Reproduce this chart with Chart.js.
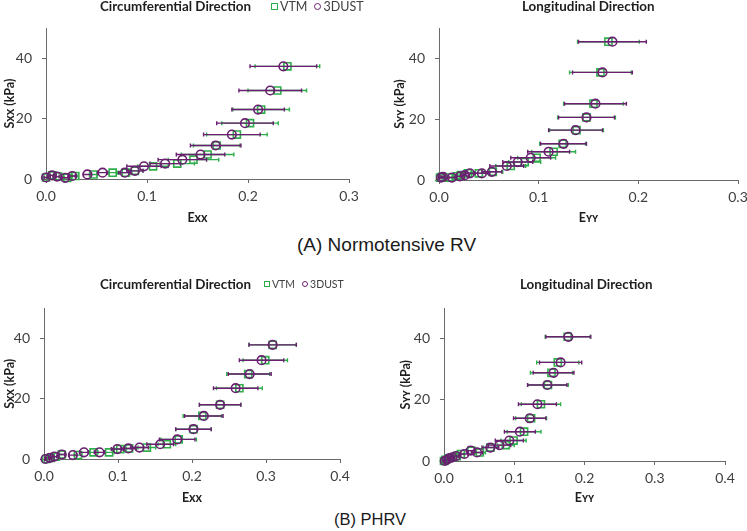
<!DOCTYPE html>
<html>
<head>
<meta charset="utf-8">
<script src="https://cdn.jsdelivr.net/npm/chart.js@4.4.0/dist/chart.umd.min.js"></script>
<style>
    body { margin: 0; width: 747px; height: 531px; overflow: hidden; background: #fff; position: relative; font-family: Lato, 'Open Sans', sans-serif; }
    canvas { position: absolute; }
    .ttl { position: absolute; font: bold 13.4px Lato, sans-serif; color: #1e1e1e; white-space: nowrap; line-height: 14px; }
    .leg { position: absolute; color: #404040; white-space: nowrap; display: flex; align-items: center; }
    .leg i { display: inline-block; box-sizing: border-box; border-width: 1.6px; border-style: solid; margin-right: 2px; }
    .cap { position: absolute; font-family: 'Liberation Sans', Arial, sans-serif; color: #1a1a1a; white-space: nowrap; }
</style>
</head>
<body>
<canvas id="aCirc"></canvas>
<canvas id="aLong"></canvas>
<canvas id="bCirc"></canvas>
<canvas id="bLong"></canvas>

<div class="ttl" style="left:100px; top:-1px;">Circumferential Direction</div>
<div class="ttl" style="left:522px; top:-1px;">Longitudinal Direction</div>
<div class="ttl" style="left:100px; top:277px;">Circumferential Direction</div>
<div class="ttl" style="left:520px; top:277px;">Longitudinal Direction</div>
<div class="leg" id="legA" style="left:271px; top:-1px; font-size:12.5px; height:14px;"></div>
<div class="leg" id="legB" style="left:264px; top:277px; font-size:10.5px; height:14px;"></div>

<div class="cap" style="left:297px; top:235px; font-size:19px; line-height:19px;">(A) Normotensive RV</div>
<div class="cap" style="left:334px; top:511px; font-size:16.5px; line-height:16.5px;">(B) PHRV</div>

<script>
// Séries et couleurs
const SERIES = ['VTM', '3DUST'];
const COLORS = ['#2fae4b', '#6a1f70'];

// Graduations
const X_TICKS_A = [0, 0.1, 0.2, 0.3];
const X_TICKS_B = [0, 0.1, 0.2, 0.3, 0.4];
const Y_TICKS = [0, 20, 40];

// (A) Normotensive RV - direction circonférentielle
const A_CIRC_S = [0.5, 1.2, 0.8, 0.4, 1.0, 1.5, 2.1, 2.1, 2.7, 4.2, 5.1, 6.4, 8.1, 11.1, 14.7, 18.5, 23.0, 29.3, 37.3];
const A_CIRC_VTM = [0.000, 0.006, 0.012, 0.021, 0.029, 0.047, 0.066, 0.079, 0.088, 0.106, 0.130, 0.146, 0.160, 0.169, 0.189, 0.202, 0.213, 0.229, 0.239];
const A_CIRC_VTM_ERR = [0.002, 0.002, 0.002, 0.003, 0.003, 0.004, 0.005, 0.006, 0.008, 0.015, 0.017, 0.025, 0.026, 0.023, 0.030, 0.028, 0.028, 0.029, 0.032];
const A_CIRC_US = [0.000, 0.006, 0.011, 0.019, 0.026, 0.041, 0.056, 0.078, 0.088, 0.097, 0.118, 0.135, 0.153, 0.168, 0.184, 0.197, 0.210, 0.222, 0.235];
const A_CIRC_US_ERR = [0.002, 0.002, 0.002, 0.003, 0.003, 0.004, 0.005, 0.006, 0.008, 0.017, 0.015, 0.024, 0.024, 0.025, 0.028, 0.028, 0.026, 0.031, 0.033];

// (A) Normotensive RV - direction longitudinale
const A_LONG_S = [0.8, 1.0, 0.8, 1.2, 1.6, 2.2, 2.2, 2.7, 4.6, 5.9, 7.3, 9.3, 11.9, 16.4, 20.6, 25.1, 35.4, 45.5];
const A_LONG_VTM = [0.001, 0.003, 0.010, 0.018, 0.022, 0.029, 0.040, 0.054, 0.072, 0.086, 0.098, 0.115, 0.124, 0.138, 0.148, 0.155, 0.162, 0.170];
const A_LONG_VTM_ERR = [0.002, 0.002, 0.003, 0.003, 0.004, 0.005, 0.008, 0.010, 0.015, 0.016, 0.019, 0.022, 0.023, 0.027, 0.029, 0.030, 0.031, 0.031];
const A_LONG_US = [0.002, 0.004, 0.013, 0.021, 0.026, 0.031, 0.043, 0.053, 0.068, 0.079, 0.092, 0.110, 0.125, 0.137, 0.148, 0.157, 0.164, 0.174];
const A_LONG_US_ERR = [0.002, 0.002, 0.003, 0.003, 0.004, 0.005, 0.008, 0.010, 0.017, 0.015, 0.020, 0.021, 0.023, 0.027, 0.028, 0.031, 0.030, 0.034];

// (B) PHRV - direction circonférentielle
const B_CIRC_S = [0.0, 0.4, 0.8, 1.5, 1.3, 2.2, 2.2, 3.3, 3.5, 3.8, 4.9, 6.5, 9.9, 14.3, 18.0, 23.5, 28.2, 32.8, 37.9];
const B_CIRC_VTM = [0.003, 0.009, 0.016, 0.024, 0.046, 0.067, 0.088, 0.103, 0.115, 0.139, 0.166, 0.182, 0.202, 0.214, 0.238, 0.264, 0.276, 0.299, 0.309];
const B_CIRC_VTM_ERR = [0.001, 0.002, 0.003, 0.004, 0.005, 0.006, 0.007, 0.008, 0.010, 0.012, 0.012, 0.024, 0.024, 0.026, 0.028, 0.031, 0.029, 0.030, 0.032];
const B_CIRC_US = [0.002, 0.008, 0.014, 0.024, 0.039, 0.054, 0.075, 0.099, 0.114, 0.129, 0.157, 0.180, 0.202, 0.216, 0.238, 0.259, 0.278, 0.294, 0.309];
const B_CIRC_US_ERR = [0.001, 0.002, 0.003, 0.004, 0.005, 0.006, 0.007, 0.008, 0.010, 0.012, 0.018, 0.024, 0.024, 0.026, 0.028, 0.030, 0.029, 0.030, 0.032];

// (B) PHRV - direction longitudinale
const B_LONG_S = [0.0, 0.4, 0.85, 1.2, 1.6, 2.3, 3.4, 2.8, 4.4, 5.2, 6.7, 9.6, 14.0, 18.6, 24.9, 28.9, 32.3, 40.7];
const B_LONG_VTM = [0.000, 0.002, 0.006, 0.012, 0.018, 0.024, 0.039, 0.051, 0.066, 0.088, 0.099, 0.114, 0.124, 0.138, 0.148, 0.153, 0.162, 0.176];
const B_LONG_VTM_ERR = [0.001, 0.002, 0.002, 0.003, 0.004, 0.005, 0.006, 0.008, 0.010, 0.012, 0.018, 0.024, 0.022, 0.028, 0.029, 0.030, 0.030, 0.032];
const B_LONG_US = [0.001, 0.004, 0.007, 0.012, 0.017, 0.029, 0.038, 0.047, 0.066, 0.079, 0.093, 0.108, 0.122, 0.133, 0.147, 0.156, 0.166, 0.177];
const B_LONG_US_ERR = [0.001, 0.002, 0.002, 0.003, 0.004, 0.005, 0.006, 0.008, 0.012, 0.016, 0.020, 0.022, 0.023, 0.027, 0.028, 0.029, 0.030, 0.032];

const AXIS_COLOR = '#6a6a6a';
const TICK_COLOR = '#3f3f3f';

/**
 * Barres d'erreur horizontales, dessinées avant chaque jeu de données
 */
const xErrorBars = {
    id: 'xErrorBars',
    beforeDatasetDraw(chart, args) {
        const ds = chart.data.datasets[args.index];
        if (!ds.xErr) return;
        const { ctx, scales: { x, y } } = chart;
        ctx.save();
        ctx.strokeStyle = ds.borderColor;
        ctx.lineWidth = 1.4;
        ds.data.forEach((p, i) => {
            const e = ds.xErr[i];
            if (!e) return;
            const x0 = x.getPixelForValue(p.x - e);
            const x1 = x.getPixelForValue(p.x + e);
            const py = y.getPixelForValue(p.y);
            ctx.beginPath();
            ctx.moveTo(x0, py);
            ctx.lineTo(x1, py);
            ctx.moveTo(x0, py - 2);
            ctx.lineTo(x0, py + 2);
            ctx.moveTo(x1, py - 2);
            ctx.lineTo(x1, py + 2);
            ctx.stroke();
        });
        ctx.restore();
    }
};

function toPoints(xs, ys) {
    return xs.map((v, i) => ({ x: v, y: ys[i] }));
}

/**
 * Crée un panneau : box = position du canvas, area = zone de tracé (coordonnées de la page)
 */
function makePanel(cfg) {
    const canvas = document.getElementById(cfg.id);
    canvas.style.left = cfg.box.left + 'px';
    canvas.style.top = cfg.box.top + 'px';
    canvas.width = cfg.box.width;
    canvas.height = cfg.box.height;
    canvas.style.width = cfg.box.width + 'px';
    canvas.style.height = cfg.box.height + 'px';

    const yAxisWidth = cfg.area.l - cfg.box.left;
    const xAxisHeight = cfg.box.top + cfg.box.height - cfg.area.b;
    const titleFont = { family: 'Lato', size: 12.5, weight: 'bold' };
    const lh = titleFont.size * 1.2 / 2;

    const datasets = [
        {
            label: SERIES[0],
            data: toPoints(cfg.vtm, cfg.s),
            xErr: cfg.vtmErr,
            pointStyle: 'rect',
            pointRadius: 5,
            borderColor: COLORS[0],
            order: 1
        },
        {
            label: SERIES[1],
            data: toPoints(cfg.us, cfg.s),
            xErr: cfg.usErr,
            pointStyle: 'circle',
            pointRadius: 4.3,
            borderColor: COLORS[1],
            order: 0
        }
    ].map(d => Object.assign(d, {
        backgroundColor: 'rgba(0,0,0,0)',
        pointBorderWidth: 1.6,
        pointHoverRadius: d.pointRadius,
        showLine: false,
        clip: false
    }));

    return new Chart(canvas, {
        type: 'scatter',
        data: { datasets: datasets },
        options: {
            responsive: false,
            animation: false,
            devicePixelRatio: 1,
            layout: {
                padding: {
                    top: cfg.area.t - cfg.box.top,
                    right: cfg.box.left + cfg.box.width - cfg.area.r,
                    left: 0,
                    bottom: 0
                }
            },
            plugins: {
                legend: { display: false },
                tooltip: { enabled: false }
            },
            scales: {
                x: {
                    type: 'linear',
                    min: 0,
                    max: cfg.xMax,
                    afterBuildTicks: (s) => { s.ticks = cfg.xTicks.map(v => ({ value: v })); },
                    afterFit: (s) => { s.height = xAxisHeight; },
                    ticks: {
                        callback: (v) => Number(v).toFixed(1),
                        font: { family: 'Lato', size: 14 },
                        color: TICK_COLOR,
                        padding: 5,
                        maxRotation: 0
                    },
                    grid: { drawOnChartArea: false, drawTicks: true, tickLength: 4, color: AXIS_COLOR },
                    border: { color: AXIS_COLOR, width: 1 },
                    title: {
                        display: true,
                        text: cfg.xTitle,
                        font: titleFont,
                        color: '#1e1e1e',
                        padding: { top: 0, bottom: cfg.box.top + cfg.box.height - cfg.xTitleY - lh }
                    }
                },
                y: {
                    type: 'linear',
                    min: 0,
                    max: 50,
                    afterBuildTicks: (s) => { s.ticks = Y_TICKS.map(v => ({ value: v })); },
                    afterFit: (s) => { s.width = yAxisWidth; },
                    ticks: {
                        font: { family: 'Lato', size: 14 },
                        color: TICK_COLOR,
                        padding: 10
                    },
                    grid: { drawOnChartArea: false, drawTicks: true, tickLength: 4, color: AXIS_COLOR },
                    border: { color: AXIS_COLOR, width: 1 },
                    title: {
                        display: true,
                        text: cfg.yTitle,
                        font: titleFont,
                        color: '#1e1e1e',
                        padding: { top: cfg.yTitleX - cfg.box.left - lh, bottom: 0 }
                    }
                }
            }
        },
        plugins: [xErrorBars]
    });
}

// Légende HTML construite à partir des séries
function fillLegend(id, size) {
    const el = document.getElementById(id);
    SERIES.forEach((name, i) => {
        const item = document.createElement('span');
        item.style.display = 'inline-flex';
        item.style.alignItems = 'center';
        item.style.marginRight = i === 0 ? '7px' : '0';
        const mark = document.createElement('i');
        mark.style.width = size + 'px';
        mark.style.height = size + 'px';
        mark.style.borderColor = COLORS[i];
        if (i === 1) mark.style.borderRadius = '50%';
        item.appendChild(mark);
        item.appendChild(document.createTextNode(name));
        el.appendChild(item);
    });
}

fillLegend('legA', 7);
fillLegend('legB', 6);

makePanel({
    id: 'aCirc',
    box: { left: 0, top: 0, width: 372, height: 230 },
    area: { l: 46, t: 28, r: 349, b: 179 },
    xMax: 0.3, xTicks: X_TICKS_A,
    xTitle: 'Exx', yTitle: 'Sxx (kPa)', xTitleY: 218, yTitleX: 10,
    s: A_CIRC_S, vtm: A_CIRC_VTM, vtmErr: A_CIRC_VTM_ERR, us: A_CIRC_US, usErr: A_CIRC_US_ERR
});

makePanel({
    id: 'aLong',
    box: { left: 385, top: 0, width: 382, height: 230 },
    area: { l: 439, t: 28, r: 738, b: 180 },
    xMax: 0.3, xTicks: X_TICKS_A,
    xTitle: 'Eʏʏ', yTitle: 'Sʏʏ (kPa)', xTitleY: 218, yTitleX: 400,
    s: A_LONG_S, vtm: A_LONG_VTM, vtmErr: A_LONG_VTM_ERR, us: A_LONG_US, usErr: A_LONG_US_ERR
});

makePanel({
    id: 'bCirc',
    box: { left: 0, top: 290, width: 372, height: 220 },
    area: { l: 44, t: 306, r: 340, b: 459 },
    xMax: 0.4, xTicks: X_TICKS_B,
    xTitle: 'Exx', yTitle: 'Sxx (kPa)', xTitleY: 498, yTitleX: 10,
    s: B_CIRC_S, vtm: B_CIRC_VTM, vtmErr: B_CIRC_VTM_ERR, us: B_CIRC_US, usErr: B_CIRC_US_ERR
});

makePanel({
    id: 'bLong',
    box: { left: 385, top: 290, width: 372, height: 220 },
    area: { l: 444, t: 306, r: 725, b: 461 },
    xMax: 0.4, xTicks: X_TICKS_B,
    xTitle: 'Eʏʏ', yTitle: 'Sʏʏ (kPa)', xTitleY: 498, yTitleX: 406,
    s: B_LONG_S, vtm: B_LONG_VTM, vtmErr: B_LONG_VTM_ERR, us: B_LONG_US, usErr: B_LONG_US_ERR
});
</script>
</body>
</html>
